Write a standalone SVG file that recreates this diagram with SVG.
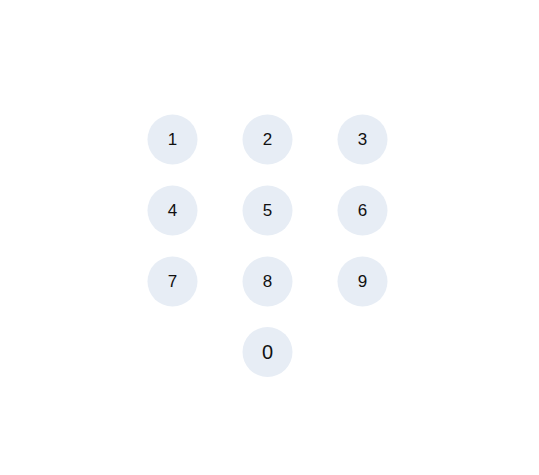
<svg xmlns="http://www.w3.org/2000/svg" width="539" height="475" viewBox="0 0 539 475">
<style>
.k circle{fill:#e7edf5}
.k text{font-family:"Liberation Sans",Arial,sans-serif;font-size:17px;fill:#111;text-anchor:middle;dominant-baseline:central}
.k text.z{font-size:20px}
</style>
<rect width="539" height="475" fill="#fff"/>
<g id="key-1" class="k"><circle cx="172.5" cy="139.5" r="25"/><text x="172.5" y="139">1</text></g>
<g id="key-2" class="k"><circle cx="267.5" cy="139.5" r="25"/><text x="267.5" y="139">2</text></g>
<g id="key-3" class="k"><circle cx="362.5" cy="139.5" r="25"/><text x="362.5" y="139">3</text></g>
<g id="key-4" class="k"><circle cx="172.5" cy="210.5" r="25"/><text x="172.5" y="210">4</text></g>
<g id="key-5" class="k"><circle cx="267.5" cy="210.5" r="25"/><text x="267.5" y="210">5</text></g>
<g id="key-6" class="k"><circle cx="362.5" cy="210.5" r="25"/><text x="362.5" y="210">6</text></g>
<g id="key-7" class="k"><circle cx="172.5" cy="281.5" r="25"/><text x="172.5" y="281">7</text></g>
<g id="key-8" class="k"><circle cx="267.5" cy="281.5" r="25"/><text x="267.5" y="281">8</text></g>
<g id="key-9" class="k"><circle cx="362.5" cy="281.5" r="25"/><text x="362.5" y="281">9</text></g>
<g id="key-0" class="k"><circle cx="267.5" cy="352" r="25"/><text class="z" x="267.5" y="351.5">0</text></g>
<g id="connectors"/>
</svg>
